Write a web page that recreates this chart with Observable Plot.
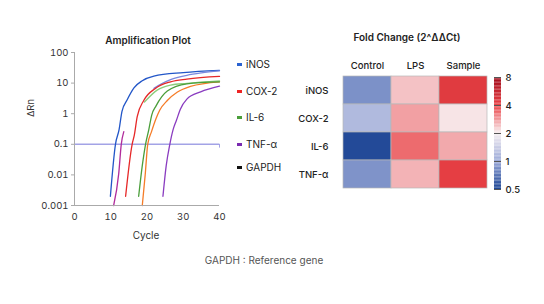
<!DOCTYPE html>
<html>
<head>
<meta charset="utf-8">
<script src="https://cdn.jsdelivr.net/npm/d3@7"></script>
<script src="https://cdn.jsdelivr.net/npm/@observablehq/plot@0.6"></script>
<style>
  html, body { margin: 0; padding: 0; background: #fff; }
  #page { position: relative; width: 544px; height: 304px; overflow: hidden; font-family: Inter, "Noto Sans", sans-serif; color: #222; }
  #page svg { position: absolute; top: 0; overflow: visible; }
  .t { position: absolute; transform: translate(-50%, -50%); white-space: nowrap; }
  .lg { position: absolute; font-size: 10px; color: #222; white-space: nowrap; line-height: 12px; }
  .lg i { display: inline-block; width: 5px; height: 3px; margin-right: 4px; vertical-align: middle; position: relative; top: -1px; }
</style>
</head>
<body>
<div id="page"></div>
<script>
// ---- Amplification curves (cycle, ΔRn) ----
const iNOS_cycle   = [9.9, 11.3, 12.3, 13.1, 14.5, 16.4, 18.7, 21.9, 30, 40];
const iNOS_dRn     = [0.002, 0.1, 0.3, 1.2, 2.8, 7, 12, 17, 22, 26];
const iNOSb_cycle  = [21.9, 24, 26.5, 31, 35, 40];
const iNOSb_dRn    = [6.7, 9.5, 13, 18, 21.5, 25];
const magenta_cycle = [10.8, 12.2, 12.9, 13.6];
const magenta_dRn   = [0.001, 0.011, 0.1, 0.26];
const COX2_cycle   = [14.1, 15.9, 16.5, 17.3, 19.1, 22.3, 26.5, 31, 40];
const COX2_dRn     = [0.002, 0.1, 0.2, 0.8, 2.7, 6.7, 11, 13.5, 16.5];
const IL6_cycle    = [17.7, 18.7, 19.6, 20.5, 21.3, 22.5, 25.6, 31, 40];
const IL6_dRn      = [0.002, 0.02, 0.1, 0.3, 0.9, 1.8, 5.5, 9.5, 11];
const IL6b_cycle   = [19.3, 22.8, 26.5, 31, 40];
const IL6b_dRn     = [2.4, 5.9, 8.6, 9.8, 11.8];
const orange_cycle = [18.7, 19.5, 20.2, 21.2, 22.5, 23.5, 25.6, 28.3, 32, 40];
const orange_dRn   = [0.001, 0.01, 0.1, 0.25, 0.7, 1.3, 2.7, 5, 7.8, 11];
const TNF_cycle    = [24.4, 25.3, 26.3, 27.2, 28.1, 29.2, 31, 34.8, 40];
const TNF_dRn      = [0.002, 0.02, 0.1, 0.3, 0.6, 1.4, 3, 5.2, 8];

const threshold = 0.1;
const yTicks = [0.001, 0.01, 0.1, 1, 10, 100];
const xTicks = [0, 10, 20, 30, 40];

// ---- Legend ----
const legendNames  = ["iNOS", "COX-2", "IL-6", "TNF-α", "GAPDH"];
const legendColors = ["#2a62d0", "#ee2424", "#4a9e3a", "#7a2ab0", "#111111"];

// ---- Fold change heatmap ----
const genes = ["iNOS", "COX-2", "IL-6", "TNF-α"];
const conditions = ["Control", "LPS", "Sample"];
const foldControl = [0.85, 1.18, 0.52, 0.86];
const foldLPS     = [2.4, 2.75, 3.4, 2.55];
const foldSample  = [4.4, 2.1, 2.65, 4.2];
const colorTicks = [0.5, 1, 2, 4, 8];

// build line rows
const curves = [
  {c: iNOS_cycle, v: iNOS_dRn, color: "#2256c8"},
  {c: iNOSb_cycle, v: iNOSb_dRn, color: "#7b88de"},
  {c: magenta_cycle, v: magenta_dRn, color: "#b02c9c"},
  {c: TNF_cycle, v: TNF_dRn, color: "#8a3cc0"},
  {c: orange_cycle, v: orange_dRn, color: "#f57c28"},
  {c: IL6b_cycle, v: IL6b_dRn, color: "#8ccc7c"},
  {c: IL6_cycle, v: IL6_dRn, color: "#4a9e3a"},
  {c: COX2_cycle, v: COX2_dRn, color: "#e62828"}
];
const lineRows = curves.flatMap((s, k) => s.c.map((c, i) => ({cycle: c, dRn: s.v[i], id: k, color: s.color})));

const page = document.getElementById("page");
const font = "Inter, 'Noto Sans', sans-serif";

const amp = Plot.plot({
  width: 280, height: 250,
  marginLeft: 74, marginRight: 61, marginTop: 52, marginBottom: 45,
  style: {fontFamily: font, fontSize: "9.5px", color: "#333", background: "transparent"},
  x: {domain: [0, 40]},
  y: {type: "log", domain: [0.001, 100]},
  marks: [
    Plot.ruleY([threshold], {stroke: "#a3a3e6", strokeWidth: 1.5}),
    Plot.ruleX([40], {y1: threshold, y2: 0.075, stroke: "#a3a3e6", strokeWidth: 1}),
    Plot.line(lineRows, {x: "cycle", y: "dRn", z: "id", stroke: "color", strokeWidth: 1.3, curve: "monotone-x"}),
    Plot.ruleX([0], {stroke: "#aaa"}),
    Plot.ruleY([0.001], {stroke: "#aaa"}),
    Plot.axisY({ticks: yTicks, tickFormat: d => String(d), tickSize: 3, tickPadding: 3, stroke: "#aaa", label: null}),
    Plot.axisX({ticks: xTicks, tickSize: 0, tickPadding: 8, label: null})
  ]
});
amp.style.left = "0px";
page.appendChild(amp);

// heatmap
const colorOpts = {
  type: "log",
  domain: colorTicks,
  range: ["#1c4494", "#9aa9d8", "#f8f0f2", "#ea4246", "#a00c1c"]
};
const cellRows = genes.flatMap((g, i) => [
  {gene: g, condition: "Control", fold: foldControl[i]},
  {gene: g, condition: "LPS", fold: foldLPS[i]},
  {gene: g, condition: "Sample", fold: foldSample[i]}
]);

const heat = Plot.plot({
  width: 264, height: 250,
  marginLeft: 62, marginRight: 56, marginTop: 74, marginBottom: 61,
  style: {fontFamily: font, fontSize: "9.5px", fontWeight: 500, color: "#222", background: "transparent"},
  x: {domain: conditions, padding: 0},
  y: {domain: genes, padding: 0},
  color: colorOpts,
  marks: [
    Plot.cell(cellRows, {x: "condition", y: "gene", fill: "fold", stroke: "#b8b8b8", strokeWidth: 0.7}),
    Plot.axisX({anchor: "top", tickSize: 0, tickPadding: 6, label: null}),
    Plot.axisY({anchor: "left", tickSize: 0, tickPadding: 14, label: null})
  ]
});
heat.style.left = "280px";
page.appendChild(heat);

// colour bar on the same log colour scale
const steps = 80;
const lo = Math.log2(colorTicks[0]), hi = Math.log2(colorTicks[colorTicks.length - 1]);
const ramp = d3.range(steps).map(i => {
  const a = lo + (hi - lo) * i / steps, b = lo + (hi - lo) * (i + 1) / steps;
  return {y1: 2 ** a, y2: 2 ** b, v: 2 ** ((a + b) / 2)};
});
const bar = Plot.plot({
  width: 56, height: 250,
  marginLeft: 6, marginRight: 43, marginTop: 77, marginBottom: 61,
  style: {fontFamily: font, fontSize: "9.5px", fontWeight: 500, color: "#222", background: "transparent"},
  x: {domain: [0, 1], axis: null},
  y: {type: "log", domain: [colorTicks[0], colorTicks[colorTicks.length - 1]], axis: null},
  color: colorOpts,
  marks: [
    Plot.rect(ramp, {x1: 0, x2: 1, y1: "y1", y2: "y2", fill: "v"}),
    Plot.tickY(colorTicks, {y: d => d, x1: 1, x2: 1.45, stroke: "#555", strokeWidth: 1}),
    Plot.text(colorTicks, {y: d => d, x: 1, dx: 4, text: d => String(d), textAnchor: "start", fill: "#222"})
  ]
});
bar.style.left = "488px";
page.appendChild(bar);

// titles, axis labels, legend, caption
function text(str, x, y, css) {
  const d = document.createElement("div");
  d.className = "t";
  d.textContent = str;
  d.style.left = x + "px";
  d.style.top = y + "px";
  Object.assign(d.style, css || {});
  page.appendChild(d);
  return d;
}
text("Amplification Plot", 148, 40, {fontSize: "10px", fontWeight: 600});
text("Cycle", 146, 235, {fontSize: "10px", color: "#333"});
text("ΔRn", 30, 108, {fontSize: "9.5px", color: "#333", transform: "translate(-50%, -50%) rotate(-90deg)"});
text("Fold Change (2^ΔΔCt)", 407, 37, {fontSize: "10px", fontWeight: 600});
text("GAPDH : Reference gene", 264, 260, {fontSize: "10px", color: "#555"});

const legendY = [64, 91, 117, 144, 167];
legendNames.forEach((name, i) => {
  const d = document.createElement("div");
  d.className = "lg";
  d.style.left = "237px";
  d.style.top = (legendY[i] - 6) + "px";
  const sw = document.createElement("i");
  sw.style.background = legendColors[i];
  d.appendChild(sw);
  d.appendChild(document.createTextNode(name));
  page.appendChild(d);
});
</script>
</body>
</html>
